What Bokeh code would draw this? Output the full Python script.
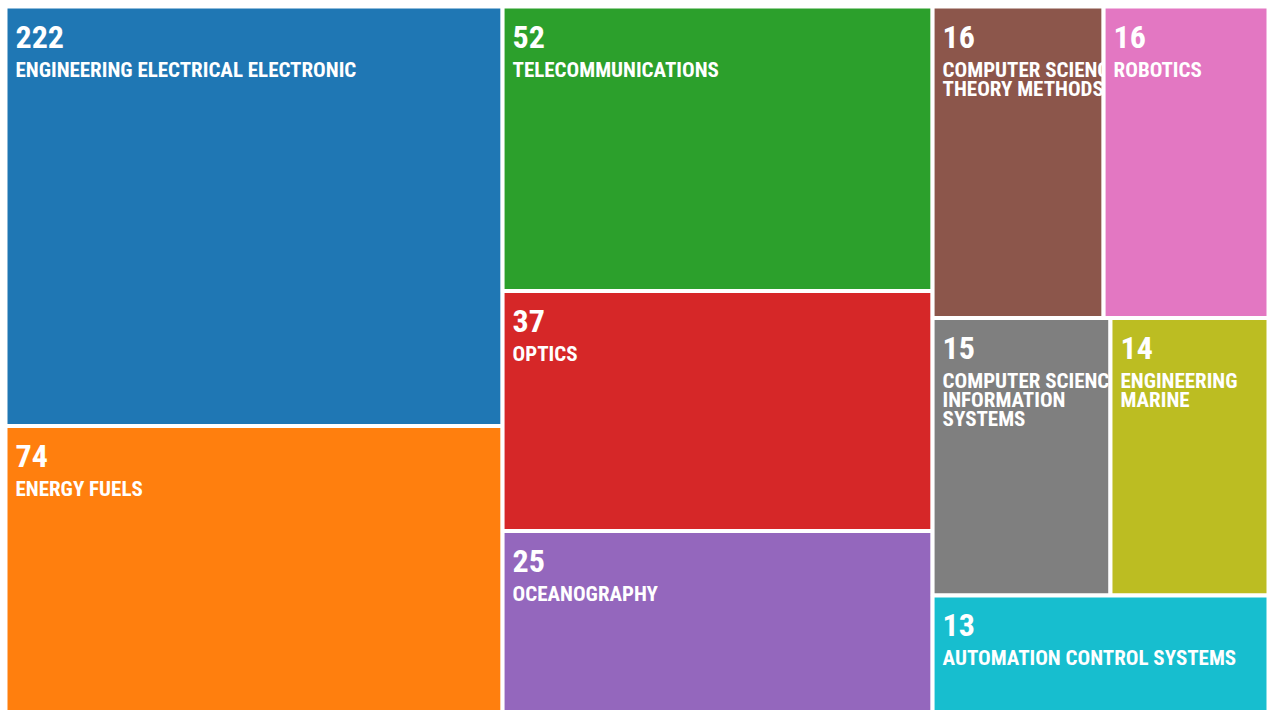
from bokeh.plotting import figure
from bokeh.models import ColumnDataSource, Range1d
from bokeh.core.properties import value
from bokeh.palettes import Category10
from bokeh.embed import file_html
from bokeh.resources import INLINE

# ---- data ----
categories = [
    "ENGINEERING ELECTRICAL ELECTRONIC",
    "ENERGY FUELS",
    "TELECOMMUNICATIONS",
    "OPTICS",
    "OCEANOGRAPHY",
    "COMPUTER SCIENCE THEORY METHODS",
    "ROBOTICS",
    "COMPUTER SCIENCE INFORMATION SYSTEMS",
    "ENGINEERING MARINE",
    "AUTOMATION CONTROL SYSTEMS",
]
counts = [222, 74, 52, 37, 25, 16, 16, 15, 14, 13]
# share (%) of the treemap area taken by each tile
tile_area = [23.06, 16.30, 13.53, 11.41, 9.11, 5.89, 5.68, 5.46, 4.85, 4.72]
colors = list(Category10[10])

# ---- treemap layout (columns -> rows -> cells) ----
LAYOUT = [[0, 1], [2, 3, 4], [[5, 6], [7, 8], 9]]
CANVAS_W, CANVAS_H = 1263, 716


def weight(node):
    return tile_area[node] if isinstance(node, int) else sum(weight(n) for n in node)


def place(node, x0, y0, x1, y1, horizontal, out):
    if isinstance(node, int):
        out[node] = (x0, y0, x1, y1)
        return
    total = weight(node)
    pos = x0 if horizontal else y0
    span = (x1 - x0) if horizontal else (y1 - y0)
    for child in node:
        size = span * weight(child) / total
        if horizontal:
            place(child, pos, y0, pos + size, y1, False, out)
        else:
            place(child, x0, pos, x1, pos + size, True, out)
        pos += size


def wrap(text, max_chars):
    lines, cur = [], ""
    for w in text.split():
        if not cur:
            cur = w
        elif len(cur) + 1 + len(w) <= max_chars:
            cur += " " + w
        else:
            lines.append(cur)
            cur = w
    if cur:
        lines.append(cur)
    return lines


rects = {}
place(LAYOUT, 0, 0, CANVAS_W, CANVAS_H, True, rects)

FONT = "Roboto Condensed"
LINE_STEP = 19

p = figure(
    width=1268, height=710,
    x_range=Range1d(-5, 1263), y_range=Range1d(704, -6),
    output_backend="svg", toolbar_location=None,
    min_border=0, outline_line_color=None,
)
p.axis.visible = False
p.grid.visible = False
p.background_fill_color = "white"
p.border_fill_color = "white"

for i in range(len(categories)):
    x0, y0, x1, y1 = rects[i]
    tile = ColumnDataSource(dict(left=[x0], right=[x1], top=[y0], bottom=[y1]))
    p.quad(left="left", right="right", top="top", bottom="bottom", source=tile,
           fill_color=colors[i], line_color="white", line_width=4)

    val = ColumnDataSource(dict(x=[x0 + 10], y=[y0 + 30], t=[str(counts[i])]))
    p.text(x="x", y="y", text="t", source=val, text_color="white",
           text_font=value(FONT), text_font_style="bold", text_font_size="32px",
           text_baseline="alphabetic", text_align="left")

    lines = wrap(categories[i], int((x1 - x0) // 10))
    lab = ColumnDataSource(dict(
        x=[x0 + 10] * len(lines),
        y=[y0 + 63 + k * LINE_STEP for k in range(len(lines))],
        t=lines,
    ))
    p.text(x="x", y="y", text="t", source=lab, text_color="white",
           text_font=value(FONT), text_font_style="bold", text_font_size="21px",
           text_baseline="alphabetic", text_align="left")

open("out.html", "w").write(file_html(p, INLINE))
